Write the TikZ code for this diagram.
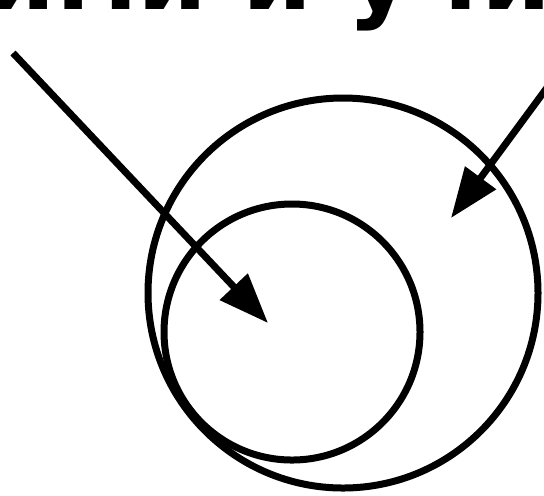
\documentclass[tikz,border=0pt]{standalone}
\usepackage{fontspec}
\setmainfont{DejaVu Sans}
\usetikzlibrary{arrows.meta}
\tikzset{
  ring/.style={circle, draw, line width=3.5pt, inner sep=0pt},
  pointer/.style={line width=3.5pt, -{Triangle[length=25pt,width=18.5pt]}},
}
\begin{document}
\begin{tikzpicture}[x=0.5pt,y=-0.5pt]
  \useasboundingbox (0,0) rectangle (544,495);
  \clip (0,0) rectangle (544,495);
  % heading, cut off by the top edge
  \node[anchor=base east, inner sep=0pt, font=\bfseries\fontsize{50}{60}\selectfont] (title) at (552,9.5) {ями и учи};
  \node[ring, minimum size=195pt] (outer) at (343,293) {};
  \node[ring, minimum size=128pt] (inner) at (292,332) {};
  \coordinate (startA) at (13,53);
  \coordinate (tipA) at (268,323);
  \coordinate (startB) at (560,70);
  \coordinate (tipB) at (451,218);
  \draw[pointer] (startA) -- (tipA);
  \draw[pointer] (startB) -- (tipB);
\end{tikzpicture}
\end{document}
